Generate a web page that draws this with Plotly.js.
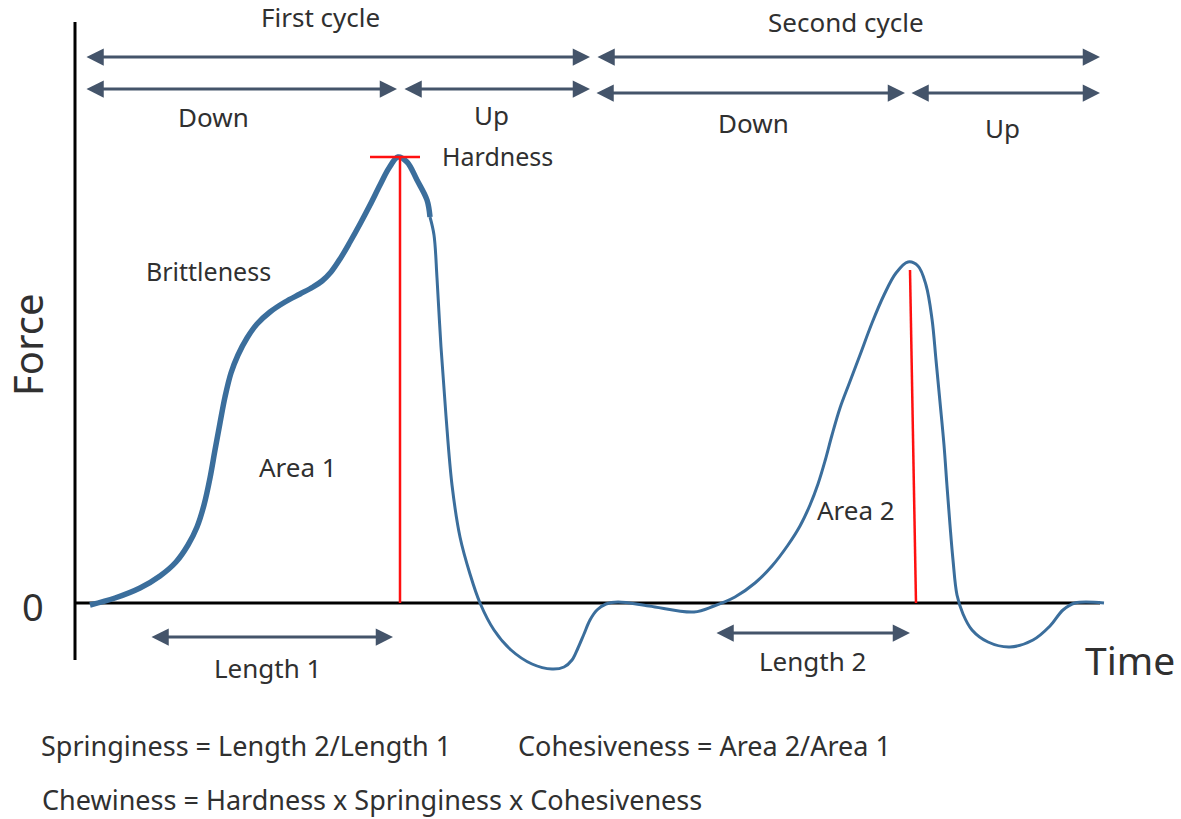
<!DOCTYPE html>
<html>
<head>
<meta charset="utf-8">
<script src="https://cdn.plot.ly/plotly-3.0.1.min.js"></script>
<style>html,body{margin:0;padding:0;background:#fff;}#chart{width:1181px;height:819px;}</style>
</head>
<body>
<div id="chart"></div>
<script>
// ---- Data (time, force in arbitrary units) ----
// First compression (thick part of curve)
const timeFirst  = [1.5, 4.0, 6.5, 8.5, 10.1, 11.3, 12.2, 12.9, 13.5, 14.0, 14.5, 15.0, 15.6, 16.3, 17.2, 18.2, 19.5, 21.0, 22.5, 23.8, 24.7, 25.6, 26.5, 27.5, 28.5, 29.5, 30.5, 31.4, 32.3, 33.2, 34.2, 35.2, 35.5];
const forceFirst = [-0.2, 0.5, 1.5, 2.7, 4.1, 5.8, 7.6, 9.8, 12.5, 15.3, 18.0, 20.6, 23.0, 24.8, 26.5, 27.9, 29.1, 30.1, 30.9, 31.6, 32.2, 33.1, 34.4, 36.1, 37.9, 39.8, 41.8, 43.5, 44.6, 44.1, 42.3, 40.3, 38.6];
// Remainder of curve (withdrawal + second cycle)
const timeRest  = [35.5, 35.9, 36.2, 36.6, 37.1, 37.7, 38.5, 39.5, 40.5, 41.9, 43.6, 45.7, 47.7, 48.9, 49.7, 50.3, 50.9, 51.5, 52.2, 53.1, 54.3, 57.4, 61.9, 63.9, 66.0, 68.0, 69.7, 71.3, 72.5, 73.5, 74.3, 75.0, 75.7, 76.5, 77.4, 78.5, 79.7, 80.9, 82.1, 83.3, 84.3, 85.1, 85.7, 86.1, 86.5, 86.9, 87.2, 87.5, 87.8, 88.2, 88.8, 89.7, 91.3, 93.5, 95.8, 97.5, 98.8, 100.0, 102.9];
const forceRest = [38.6, 36.8, 32.5, 25.6, 18.7, 11.8, 6.6, 2.9, 0.0, -2.7, -4.7, -6.1, -6.6, -6.4, -5.7, -4.5, -3.1, -1.7, -0.7, -0.1, 0.1, -0.3, -0.9, -0.3, 0.6, 2.0, 3.7, 5.8, 7.7, 9.8, 11.9, 14.2, 16.8, 19.5, 21.9, 24.8, 28.0, 30.8, 33.0, 34.1, 33.7, 31.8, 28.4, 24.3, 20.1, 15.8, 11.7, 7.8, 4.3, 0.8, -1.1, -2.7, -3.9, -4.4, -3.7, -2.3, -0.7, 0.0, 0.0];

// Key points
const hardness1 = {t: 32.5, f: 44.6};
const peak2 = {tTop: 83.5, fTop: 33.3, tBase: 84.1};
// Cycle / phase spans (time)
const cycleSpans = [[1.0, 51.5], [52.1, 102.5]];
const cycleLabels = ["First cycle", "Second cycle"];
const phaseSpans = [[1.0, 32.2], [32.8, 51.5], [52.0, 83.0], [83.5, 102.5]];
const phaseLabels = ["Down", "Up", "Down", "Up"];
const lengthSpans = [[7.5, 31.8], [64.0, 83.5]];
const lengthLabels = ["Length 1", "Length 2"];

const curveColor = "#3b6e9c";
const arrowColor = "#44546a";
const textColor = "#303030";
const FONT = "Noto Sans, Open Sans, sans-serif";
const FS = 26;
const FB = 27;

const traces = [
  {x: timeFirst, y: forceFirst, mode: "lines", line: {color: curveColor, width: 5.5, shape: "spline", smoothing: 1}, hoverinfo: "skip"},
  {x: timeRest, y: forceRest, mode: "lines", line: {color: curveColor, width: 3, shape: "spline", smoothing: 1}, hoverinfo: "skip"}
];

const shapes = [
  // axes
  {type: "line", xref: "paper", yref: "paper", x0: 75/1181, x1: 75/1181, y0: 1-22/819, y1: 1-660/819, line: {color: "#000", width: 3}},
  {type: "line", xref: "x", yref: "y", x0: 0, x1: 102.5, y0: 0, y1: 0, line: {color: "#000", width: 3}, layer: "below"},
  // hardness marks
  {type: "line", xref: "x", yref: "y", x0: hardness1.t - 3, x1: hardness1.t + 2, y0: hardness1.f, y1: hardness1.f, line: {color: "#ff1010", width: 2.5}},
  {type: "line", xref: "x", yref: "y", x0: hardness1.t, x1: hardness1.t, y0: hardness1.f, y1: 0, line: {color: "#ff1010", width: 2.5}},
  {type: "line", xref: "x", yref: "y", x0: peak2.tTop, x1: peak2.tBase, y0: peak2.fTop, y1: 0, line: {color: "#ff1010", width: 2.5}}
];

const annotations = [];
function dblArrow(t0, t1, f) {
  annotations.push({x: t1, y: f, ax: t0, ay: f, xref: "x", yref: "y", axref: "x", ayref: "y", text: "", showarrow: true,
    arrowhead: 2, startarrowhead: 2, arrowside: "end+start", arrowsize: 1.15, startarrowsize: 1.15, arrowwidth: 3, arrowcolor: arrowColor, standoff: 0, startstandoff: 0});
}
function label(t, f, text, size, extra) {
  annotations.push(Object.assign({x: t, y: f, xref: "x", yref: "y", text: text, showarrow: false, font: {family: FONT, size: size, color: textColor}}, extra || {}));
}
cycleSpans.forEach(s => dblArrow(s[0], s[1], 54.6));
dblArrow(phaseSpans[0][0], phaseSpans[0][1], 51.4);
dblArrow(phaseSpans[1][0], phaseSpans[1][1], 51.4);
dblArrow(phaseSpans[2][0], phaseSpans[2][1], 51.0);
dblArrow(phaseSpans[3][0], phaseSpans[3][1], 51.0);
dblArrow(lengthSpans[0][0], lengthSpans[0][1], -3.4);
dblArrow(lengthSpans[1][0], lengthSpans[1][1], -3.0);

label(24.5, 58.6, cycleLabels[0], FS);
label(77.1, 58.1, cycleLabels[1], FS);
label(13.8, 48.6, phaseLabels[0], FS);
label(41.6, 48.8, phaseLabels[1], FS);
label(67.8, 48.0, phaseLabels[2], FS);
label(92.7, 47.5, phaseLabels[3], FS);
label(36.5, 44.7, "Hardness", 25, {xanchor: "left"});
label(13.3, 33.2, "Brittleness", 25);
label(22.3, 13.6, "Area 1", FS);
label(78.1, 9.3, "Area 2", FS);
label(19.2, -6.5, lengthLabels[0], FS);
label(73.7, -5.8, lengthLabels[1], FS);
label(-4.8, 25.8, "Force", 40, {textangle: -90});
label(-4.2, -0.3, "0", 38);
label(105.5, -5.6, "Time", 39);
label(-3.6, -14.2, "Springiness = Length 2/Length 1", FB, {xanchor: "left"});
label(44.1, -14.2, "Cohesiveness = Area 2/Area 1", FB, {xanchor: "left"});
label(-3.4, -19.6, "Chewiness = Hardness x Springiness x Cohesiveness", FB, {xanchor: "left", borderpad: 0});

const layout = {
  width: 1181, height: 819,
  margin: {l: 0, r: 0, t: 0, b: 0},
  paper_bgcolor: "#fff", plot_bgcolor: "#fff",
  showlegend: false,
  xaxis: {range: [-7.5, 110.6], visible: false, fixedrange: true},
  yaxis: {range: [-21.6, 60.3], visible: false, fixedrange: true},
  shapes: shapes,
  annotations: annotations
};
Plotly.newPlot("chart", traces, layout, {displayModeBar: false, staticPlot: true});
</script>
</body>
</html>
